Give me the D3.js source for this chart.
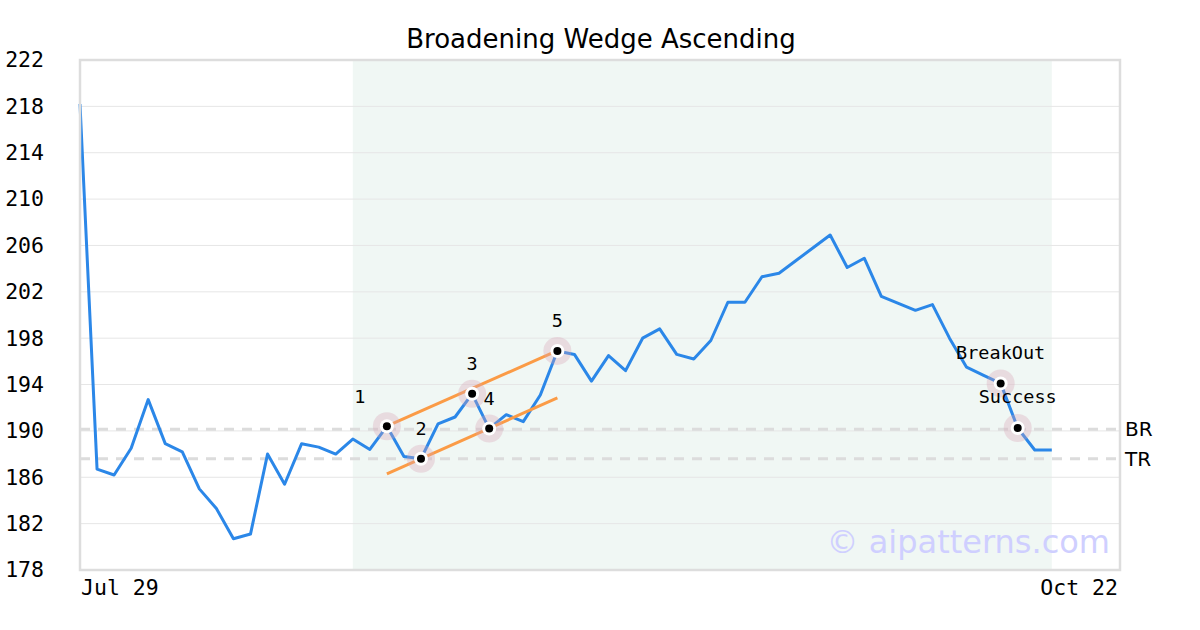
<!DOCTYPE html>
<html><head><meta charset="utf-8">
<script src="https://cdn.jsdelivr.net/npm/d3@7/dist/d3.min.js"></script>
<style>body{margin:0;background:#fff}svg{display:block}</style>
</head><body>
<script>
const title = "Broadening Wedge Ascending";
const prices = [218.2,186.7,186.2,188.5,192.7,188.9,188.2,185.0,183.3,180.7,181.1,188.0,185.4,188.9,188.6,188.0,189.3,188.4,
190.4,187.8,187.6,190.6,191.2,193.2,190.2,191.4,190.8,193.1,196.9,196.6,194.3,196.5,195.2,198.0,198.8,196.6,196.2,197.8,
201.1,201.1,203.3,203.6,204.7,205.8,206.9,204.1,204.9,201.6,201.0,200.4,200.9,198.0,195.5,194.8,194.1,190.25,188.35,188.35];
const xTickLabels = ["Jul 29","Oct 22"];
const xSlots = 62;
const yTicks = [178,182,186,190,194,198,202,206,210,214,218,222];
const shadeRange = [16,57];
const pivotIdx = [18,20,23,24,28];
const pivotLabels = ["1","2","3","4","5"];
const signalIdx = [54,55];
const signalLabels = ["BreakOut","Success"];
const upperTrend = [[18,190.42],[28,196.92]];
const lowerTrend = [[18,186.29],[28,192.84]];
const levelNames = ["BR","TR"];
const levelValues = [190.15,187.6];

const W=1200,H=630, L=80,R=1120,T=60,B=570;
const svg=d3.select("body").append("svg").attr("width",W).attr("height",H);
const x=d3.scaleLinear().domain([0,xSlots-1]).range([L,R]);
const y=d3.scaleLinear().domain([178,222]).range([B,T]);
const mono="'DejaVu Sans Mono', monospace", sans="'DejaVu Sans', sans-serif";

svg.append("rect").attr("x",x(shadeRange[0])).attr("y",T).attr("width",x(shadeRange[1])-x(shadeRange[0])).attr("height",B-T).attr("fill","#f0f7f4");

svg.append("g").selectAll("line").data(yTicks).join("line")
 .attr("x1",L).attr("x2",R).attr("y1",d=>y(d)).attr("y2",d=>y(d)).attr("stroke","#e6e6e6").attr("stroke-width",1);

const yAxis=svg.append("g").attr("transform",`translate(${L},0)`).call(d3.axisLeft(y).tickValues(yTicks).tickSize(0).tickPadding(36));
yAxis.select(".domain").remove();
yAxis.selectAll("text").attr("font-family",mono).attr("font-size",21.5).attr("fill","#000");

svg.append("g").selectAll("line").data(levelValues).join("line")
 .attr("x1",L).attr("x2",R).attr("y1",d=>y(d)).attr("y2",d=>y(d))
 .attr("stroke","#dcdcdc").attr("stroke-width",3).attr("stroke-dasharray","10,8");
svg.append("g").selectAll("text").data(levelNames).join("text")
 .attr("x",R+5).attr("y",(d,i)=>y(levelValues[i])).attr("dy","0.35em")
 .attr("font-family",sans).attr("font-size",20).attr("fill","#000").text(d=>d);

svg.append("path").datum(prices)
 .attr("d",d3.line().x((d,i)=>x(i)).y(d=>y(d)))
 .attr("fill","none").attr("stroke","#2b87e8").attr("stroke-width",3).attr("stroke-linejoin","round");

[upperTrend,lowerTrend].forEach(t=>{
 svg.append("line").attr("x1",x(t[0][0])).attr("y1",y(t[0][1])).attr("x2",x(t[1][0])).attr("y2",y(t[1][1]))
  .attr("stroke","#fb9b46").attr("stroke-width",3);
});

const marks=pivotIdx.concat(signalIdx);
const mg=svg.append("g");
marks.forEach(i=>{
 mg.append("circle").attr("cx",x(i)).attr("cy",y(prices[i])).attr("r",14).attr("fill","#d9a3b6").attr("opacity",0.33);
 mg.append("circle").attr("cx",x(i)).attr("cy",y(prices[i])).attr("r",7).attr("fill","#fff");
 mg.append("circle").attr("cx",x(i)).attr("cy",y(prices[i])).attr("r",4).attr("fill","#000");
});
pivotIdx.forEach((p,k)=>{
 svg.append("text").attr("x",x(p)+(k===0?-27:0)).attr("y",y(prices[p])-30).attr("dy","0.35em")
  .attr("text-anchor","middle").attr("font-family",mono).attr("font-size",18.5).text(pivotLabels[k]);
});
signalIdx.forEach((p,k)=>{
 svg.append("text").attr("x",x(p)).attr("y",y(prices[p])-31).attr("dy","0.35em")
  .attr("text-anchor","middle").attr("font-family",mono).attr("font-size",18.5).text(signalLabels[k]);
});

svg.append("text").attr("x",1110).attr("y",553).attr("text-anchor","end").attr("font-family",sans)
 .attr("font-size",32).attr("fill","#cfcfff").text("© aipatterns.com");

svg.append("rect").attr("x",L).attr("y",T).attr("width",R-L).attr("height",B-T).attr("fill","none").attr("stroke","#dddddd").attr("stroke-width",2.5);

svg.append("text").attr("x",L+1).attr("y",595).attr("font-family",mono).attr("font-size",21.5).text(xTickLabels[0]);
svg.append("text").attr("x",R-2).attr("y",595).attr("text-anchor","end").attr("font-family",mono).attr("font-size",21.5).text(xTickLabels[1]);

svg.append("text").attr("x",601).attr("y",48).attr("text-anchor","middle").attr("font-family",sans).attr("font-size",26).text(title);
</script>
</body></html>
